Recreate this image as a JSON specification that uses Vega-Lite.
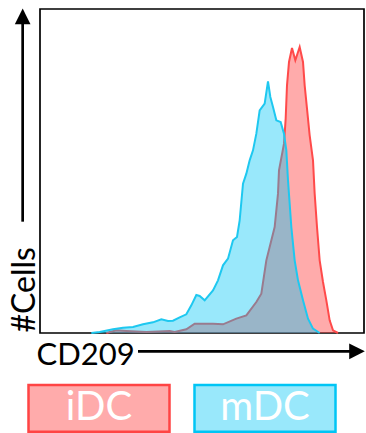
{
  "$schema": "https://vega.github.io/schema/vega-lite/v6.json",
  "width": 324,
  "height": 324,
  "autosize": {"type": "none"},
  "padding": {"left": 40, "top": 9, "right": 2, "bottom": 100},
  "background": "white",
  "config": {
    "font": "Lato",
    "view": {"stroke": "black", "strokeWidth": 1.7},
    "axis": {"grid": false, "ticks": false, "labels": false, "domain": false, "titleFont": "Lato", "titleFontWeight": "normal", "titleColor": "black", "titlePadding": 0},
    "axisX": {"titleFontSize": 31, "titleAnchor": "start", "titleAlign": "left", "titleBaseline": "alphabetic", "titleX": -4, "titleY": 31},
    "axisY": {"titleFontSize": 32, "titleAngle": 270, "titleAlign": "left", "titleBaseline": "alphabetic", "titleX": -6, "titleY": 323}
  },
  "datasets": {
    "hist": [
      {"cell": "iDC", "x": 199, "y": 0}, {"cell": "iDC", "x": 229, "y": 8}, {"cell": "iDC", "x": 259, "y": 6}, {"cell": "iDC", "x": 319, "y": 3},
      {"cell": "iDC", "x": 389, "y": 6}, {"cell": "iDC", "x": 404, "y": 3}, {"cell": "iDC", "x": 439, "y": 11}, {"cell": "iDC", "x": 464, "y": 28},
      {"cell": "iDC", "x": 519, "y": 28}, {"cell": "iDC", "x": 549, "y": 26}, {"cell": "iDC", "x": 589, "y": 43}, {"cell": "iDC", "x": 619, "y": 53},
      {"cell": "iDC", "x": 649, "y": 93}, {"cell": "iDC", "x": 664, "y": 118}, {"cell": "iDC", "x": 679, "y": 218}, {"cell": "iDC", "x": 689, "y": 258},
      {"cell": "iDC", "x": 704, "y": 318}, {"cell": "iDC", "x": 714, "y": 418}, {"cell": "iDC", "x": 717, "y": 488}, {"cell": "iDC", "x": 732, "y": 568},
      {"cell": "iDC", "x": 737, "y": 643}, {"cell": "iDC", "x": 741, "y": 743}, {"cell": "iDC", "x": 747, "y": 813}, {"cell": "iDC", "x": 756, "y": 855},
      {"cell": "iDC", "x": 766, "y": 818}, {"cell": "iDC", "x": 779, "y": 858}, {"cell": "iDC", "x": 789, "y": 813}, {"cell": "iDC", "x": 794, "y": 743},
      {"cell": "iDC", "x": 801, "y": 673}, {"cell": "iDC", "x": 809, "y": 593}, {"cell": "iDC", "x": 819, "y": 518}, {"cell": "iDC", "x": 824, "y": 418},
      {"cell": "iDC", "x": 831, "y": 318}, {"cell": "iDC", "x": 839, "y": 218}, {"cell": "iDC", "x": 849, "y": 153}, {"cell": "iDC", "x": 859, "y": 98},
      {"cell": "iDC", "x": 869, "y": 38}, {"cell": "iDC", "x": 879, "y": 8}, {"cell": "iDC", "x": 894, "y": 0},
      {"cell": "mDC", "x": 154, "y": 0}, {"cell": "mDC", "x": 179, "y": 3}, {"cell": "mDC", "x": 219, "y": 11}, {"cell": "mDC", "x": 249, "y": 16},
      {"cell": "mDC", "x": 279, "y": 18}, {"cell": "mDC", "x": 309, "y": 26}, {"cell": "mDC", "x": 339, "y": 32}, {"cell": "mDC", "x": 364, "y": 41},
      {"cell": "mDC", "x": 384, "y": 36}, {"cell": "mDC", "x": 399, "y": 37}, {"cell": "mDC", "x": 419, "y": 47}, {"cell": "mDC", "x": 439, "y": 56},
      {"cell": "mDC", "x": 454, "y": 83}, {"cell": "mDC", "x": 469, "y": 114}, {"cell": "mDC", "x": 479, "y": 111}, {"cell": "mDC", "x": 494, "y": 98},
      {"cell": "mDC", "x": 519, "y": 128}, {"cell": "mDC", "x": 534, "y": 158}, {"cell": "mDC", "x": 549, "y": 203}, {"cell": "mDC", "x": 564, "y": 223},
      {"cell": "mDC", "x": 579, "y": 278}, {"cell": "mDC", "x": 591, "y": 288}, {"cell": "mDC", "x": 599, "y": 338}, {"cell": "mDC", "x": 609, "y": 448},
      {"cell": "mDC", "x": 619, "y": 478}, {"cell": "mDC", "x": 629, "y": 518}, {"cell": "mDC", "x": 639, "y": 548}, {"cell": "mDC", "x": 649, "y": 598},
      {"cell": "mDC", "x": 659, "y": 668}, {"cell": "mDC", "x": 674, "y": 688}, {"cell": "mDC", "x": 684, "y": 755}, {"cell": "mDC", "x": 691, "y": 708},
      {"cell": "mDC", "x": 699, "y": 678}, {"cell": "mDC", "x": 709, "y": 638}, {"cell": "mDC", "x": 722, "y": 633}, {"cell": "mDC", "x": 732, "y": 598},
      {"cell": "mDC", "x": 739, "y": 548}, {"cell": "mDC", "x": 744, "y": 458}, {"cell": "mDC", "x": 754, "y": 318}, {"cell": "mDC", "x": 764, "y": 218},
      {"cell": "mDC", "x": 774, "y": 158}, {"cell": "mDC", "x": 789, "y": 98}, {"cell": "mDC", "x": 804, "y": 43}, {"cell": "mDC", "x": 819, "y": 13},
      {"cell": "mDC", "x": 839, "y": 0}
    ],
    "arrows": [{"axis": "CD209"}]
  },
  "layer": [
    {
      "data": {"name": "hist"},
      "transform": [{"filter": "datum.cell === 'iDC'"}],
      "mark": {"type": "area", "fillOpacity": 0.45},
      "encoding": {
        "x": {"field": "x", "type": "quantitative", "title": "CD209", "scale": {"domain": [0, 972]}},
        "y": {"field": "y", "type": "quantitative", "title": "#Cells", "scale": {"domain": [0, 972]}},
        "color": {
          "field": "cell", "type": "nominal",
          "scale": {"domain": ["iDC", "mDC"], "range": ["#FF4444", "#00C5F5"]},
          "legend": {
            "orient": "none", "legendX": -13, "legendY": 327, "direction": "horizontal",
            "title": null, "padding": 0, "offset": 0,
            "symbolType": "M-1,-0.33H1V0.33H-1Z", "symbolSize": 19881, "symbolStrokeWidth": 2.5,
            "columnPadding": 14,
            "labelFont": "Lato", "labelFontSize": 40, "labelColor": "white", "labelAlign": "center", "labelBaseline": "middle", "labelOffset": -72,
            "encode": {"symbols": {"update": {"stroke": {"scale": "color", "field": "value"}, "fillOpacity": {"signal": "datum.value === 'iDC' ? 0.45 : 0.4"}, "opacity": {"value": 1}}}}
          }
        }
      }
    },
    {
      "data": {"name": "hist"},
      "transform": [{"filter": "datum.cell === 'iDC'"}],
      "mark": {"type": "line", "color": "#FF4A4A", "strokeWidth": 2},
      "encoding": {
        "x": {"field": "x", "type": "quantitative", "title": "CD209", "scale": {"domain": [0, 972]}},
        "y": {"field": "y", "type": "quantitative", "title": "#Cells", "scale": {"domain": [0, 972]}}
      }
    },
    {
      "data": {"name": "hist"},
      "transform": [{"filter": "datum.cell === 'mDC'"}],
      "mark": {"type": "area", "fillOpacity": 0.4},
      "encoding": {
        "x": {"field": "x", "type": "quantitative", "title": "CD209", "scale": {"domain": [0, 972]}},
        "y": {"field": "y", "type": "quantitative", "title": "#Cells", "scale": {"domain": [0, 972]}},
        "color": {"field": "cell", "type": "nominal", "scale": {"domain": ["iDC", "mDC"], "range": ["#FF4444", "#00C5F5"]}}
      }
    },
    {
      "data": {"name": "hist"},
      "transform": [{"filter": "datum.cell === 'mDC'"}],
      "mark": {"type": "line", "color": "#1EC8F0", "strokeWidth": 2},
      "encoding": {
        "x": {"field": "x", "type": "quantitative", "title": "CD209", "scale": {"domain": [0, 972]}},
        "y": {"field": "y", "type": "quantitative", "title": "#Cells", "scale": {"domain": [0, 972]}}
      }
    },
    {
      "data": {"name": "arrows"},
      "mark": {"type": "rule", "color": "black", "strokeWidth": 2.7},
      "encoding": {
        "x": {"datum": -52, "type": "quantitative", "title": "CD209", "scale": {"domain": [0, 972]}},
        "y": {"datum": 334, "type": "quantitative", "title": "#Cells", "scale": {"domain": [0, 972]}},
        "y2": {"datum": 935}
      }
    },
    {
      "data": {"name": "arrows"},
      "mark": {"type": "point", "shape": "M0,-1L-1,1L1,1Z", "size": 246, "filled": true, "color": "black", "opacity": 1},
      "encoding": {
        "x": {"datum": -52, "type": "quantitative", "title": "CD209", "scale": {"domain": [0, 972]}},
        "y": {"datum": 950, "type": "quantitative", "title": "#Cells", "scale": {"domain": [0, 972]}}
      }
    },
    {
      "data": {"name": "arrows"},
      "mark": {"type": "rule", "color": "black", "strokeWidth": 2.7},
      "encoding": {
        "x": {"datum": 294, "type": "quantitative", "title": "CD209", "scale": {"domain": [0, 972]}},
        "x2": {"datum": 940},
        "y": {"datum": -55, "type": "quantitative", "title": "#Cells", "scale": {"domain": [0, 972]}}
      }
    },
    {
      "data": {"name": "arrows"},
      "mark": {"type": "point", "shape": "M1,0L-1,-1L-1,1Z", "size": 246, "filled": true, "color": "black", "opacity": 1},
      "encoding": {
        "x": {"datum": 951, "type": "quantitative", "title": "CD209", "scale": {"domain": [0, 972]}},
        "y": {"datum": -55, "type": "quantitative", "title": "#Cells", "scale": {"domain": [0, 972]}}
      }
    }
  ]
}
